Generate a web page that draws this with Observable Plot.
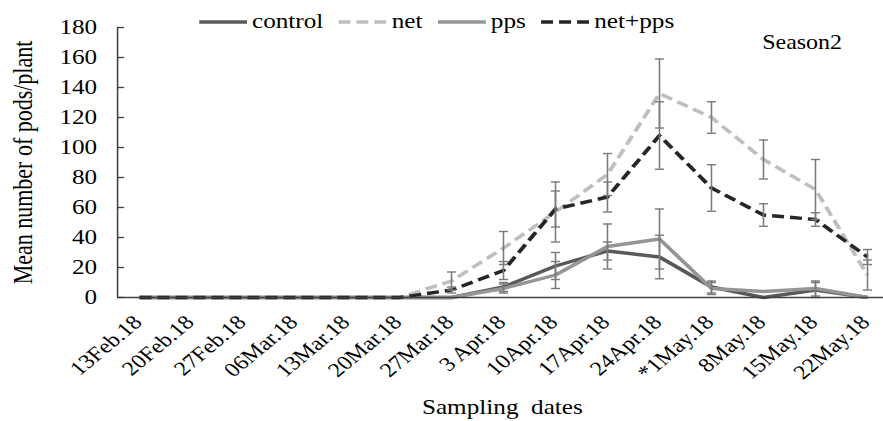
<!DOCTYPE html>
<html>
<head>
<meta charset="utf-8">
<script src="https://cdn.jsdelivr.net/npm/d3@7"></script>
<script src="https://cdn.jsdelivr.net/npm/@observablehq/plot@0.6"></script>
<style>
  html, body { margin: 0; padding: 0; background: #fff; }
  #wrap { position: relative; width: 736px; height: 421px; transform: scaleX(1.19973); transform-origin: 0 0;
          font-family: "Liberation Serif", "Times New Roman", serif; overflow: visible; }
  #legend { position: absolute; left: 166px; top: 9px; display: flex; align-items: center;
            font-size: 21px; color: #000; white-space: nowrap; }
  #legend .item { display: flex; align-items: center; margin-right: 13px; }
  #legend svg { margin-right: 4px; }
</style>
</head>
<body>
<div id="wrap"><div id="legend"></div></div>
<script>
// ---- data ----
const dates = ["13Feb.18","20Feb.18","27Feb.18","06Mar.18","13Mar.18","20Mar.18","27Mar.18","3 Apr.18","10Apr.18","17Apr.18","24Apr.18","*1May.18","8May.18","15May.18","22May.18"];
const seriesNames = ["control", "net", "pps", "net+pps"];
const control    = [0,0,0,0,0,0,0, 7,21,31, 27,  7, 0, 5, 0];
const controlErr = [0,0,0,0,0,0,0, 3, 9, 6,14.5, 4, 0, 5, 0];
const net        = [0,0,0,0,0,0,11,33,57,82,136,120,92,72,15];
const netErr     = [0,0,0,0,0,0, 6,11,20,14, 23,10.5,13,20,10];
const pps        = [0,0,0,0,0,0,0, 6,15,34, 39,  6, 4, 6, 0];
const ppsErr     = [0,0,0,0,0,0,0, 3, 9,15, 20,  4, 0, 5, 0];
const netpps     = [0,0,0,0,0,0, 5,18,59,67,108, 73,55,52,27];
const netppsErr  = [0,0,0,0,0,0, 2, 6,12,10,22.5,15.5,7.5,4.5,5];
const yTicks = [0,20,40,60,80,100,120,140,160,180];

// ---- styles ----
const styles = {
  "control": {color: "#595959", dash: null},
  "net":     {color: "#bfbfbf", dash: "10,5"},
  "pps":     {color: "#959595", dash: null},
  "net+pps": {color: "#262626", dash: "10,5"}
};
const valuesBy = {"control": control, "net": net, "pps": pps, "net+pps": netpps};
const errBy = {"control": controlErr, "net": netErr, "pps": ppsErr, "net+pps": netppsErr};

const rows = seriesNames.flatMap(s => valuesBy[s].map((v, i) => ({series: s, i, v, e: errBy[s][i]})));
const errRows = rows.filter(r => r.e > 0);
const idx = dates.map((d, i) => i);
const xDomain = [-0.422, 14.31];

const cap = {draw(ctx, size) { const h = Math.sqrt(size / Math.PI); ctx.moveTo(-h, 0); ctx.lineTo(h, 0); }};
const errColor = "#7a7a7a";

const lineMarks = seriesNames.map(s => Plot.line(rows.filter(r => r.series === s), {
  x: "i", y: "v", stroke: styles[s].color, strokeWidth: 3.4,
  strokeDasharray: styles[s].dash, strokeLinejoin: "round", strokeLinecap: "butt"
}));

const chart = Plot.plot({
  width: 736, height: 421,
  marginLeft: 97.5, marginRight: 0, marginTop: 27, marginBottom: 124,
  style: {fontFamily: "'Liberation Serif', 'Times New Roman', serif", fontSize: "21px", color: "#000", background: "transparent", overflow: "visible"},
  x: {type: "linear", domain: xDomain, axis: null},
  y: {domain: [0, 180], axis: null},
  marks: [
    Plot.axisY({ticks: yTicks, tickSize: -6, tickPadding: 23, tickFormat: d => String(d), fontSize: 21, stroke: "#404040", strokeWidth: 1.3, label: null}),
    ...lineMarks,
    Plot.ruleX(errRows, {x: "i", y1: r => Math.max(0, r.v - r.e), y2: r => r.v + r.e, stroke: errColor, strokeWidth: 1.3}),
    Plot.dot(errRows, {x: "i", y: r => r.v + r.e, symbol: cap, r: 3.8, stroke: errColor, fill: "none", strokeWidth: 1.4}),
    Plot.dot(errRows, {x: "i", y: r => Math.max(0, r.v - r.e), symbol: cap, r: 3.8, stroke: errColor, fill: "none", strokeWidth: 1.4}),
    Plot.ruleY([0], {stroke: "#404040", strokeWidth: 1.6}),
    Plot.ruleX([xDomain[0]], {stroke: "#404040", strokeWidth: 1.3}),
    Plot.text(idx, {x: d => d, text: d => dates[d], frameAnchor: "bottom", rotate: -45, textAnchor: "end", lineAnchor: "bottom", dx: 3, dy: 26, fontSize: 20, fill: "#000"}),
    Plot.text(["Mean number of pods/plant"], {frameAnchor: "left", rotate: -90, textAnchor: "middle", lineAnchor: "middle", dx: -78, fontSize: 22, fill: "#000"}),
    Plot.text(["Sampling\u00a0 dates"], {frameAnchor: "bottom", lineAnchor: "bottom", dx: 1.5, dy: 116, fontSize: 21, fill: "#000"}),
    Plot.text(["Season2"], {frameAnchor: "top-right", textAnchor: "end", lineAnchor: "bottom", dx: -34.6, dy: 21, fontSize: 20, fill: "#000"})
  ]
});
document.getElementById("wrap").appendChild(chart);

// ---- legend ----
const legend = document.getElementById("legend");
for (const s of seriesNames) {
  const item = document.createElement("div");
  item.className = "item";
  const ns = "http://www.w3.org/2000/svg";
  const sw = document.createElementNS(ns, "svg");
  sw.setAttribute("width", 40); sw.setAttribute("height", 10);
  const ln = document.createElementNS(ns, "line");
  ln.setAttribute("x1", 0); ln.setAttribute("x2", 40); ln.setAttribute("y1", 5); ln.setAttribute("y2", 5);
  ln.setAttribute("stroke", styles[s].color); ln.setAttribute("stroke-width", 3.4);
  if (styles[s].dash) ln.setAttribute("stroke-dasharray", styles[s].dash);
  sw.appendChild(ln);
  const t = document.createElement("span");
  t.textContent = s;
  item.appendChild(sw); item.appendChild(t);
  legend.appendChild(item);
}
</script>
</body>
</html>
